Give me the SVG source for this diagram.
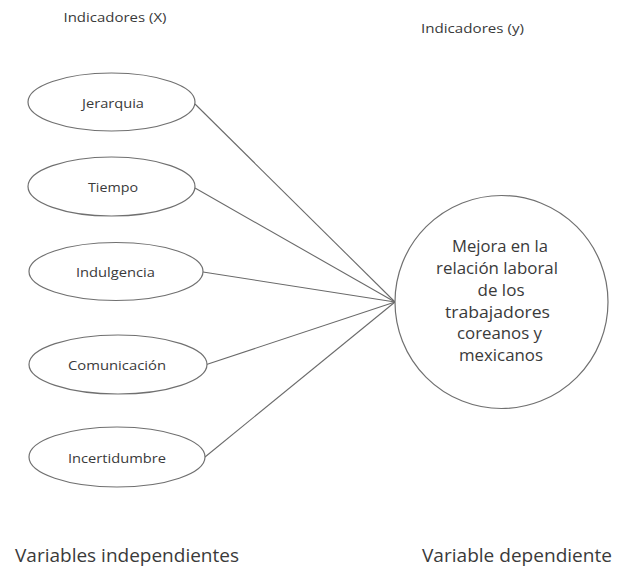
<svg xmlns="http://www.w3.org/2000/svg" width="618" height="569" viewBox="0 0 618 569">
<style>
.shape{fill:#ffffff;stroke:#707070;stroke-width:1.2}
.conn{stroke:#6a6a6a;stroke-width:1.1;fill:none}
text{font-family:"Open Sans","Liberation Sans",sans-serif;fill:#3a3a3a;text-anchor:middle}
.lbl{font-size:13px}
.hdr{font-size:12.5px}
.big{font-size:17.5px}
.ctr{font-size:16.5px}
</style>
<rect width="618" height="569" fill="#ffffff"/>
<text class="hdr" x="115" y="22" textLength="103" lengthAdjust="spacingAndGlyphs">Indicadores (X)</text>
<text class="hdr" x="472.5" y="33" textLength="103" lengthAdjust="spacingAndGlyphs">Indicadores (y)</text>
<g id="connectors">
<line class="conn" x1="195" y1="104" x2="395" y2="302"/>
<line class="conn" x1="195" y1="188" x2="395" y2="302"/>
<line class="conn" x1="203" y1="272" x2="395" y2="302"/>
<line class="conn" x1="205" y1="365" x2="395" y2="302"/>
<line class="conn" x1="205" y1="457" x2="395" y2="302"/>
</g>
<g id="jerarquia">
<ellipse class="shape" cx="111.5" cy="102" rx="83.5" ry="29"/>
<text class="lbl" x="113" y="108" textLength="62" lengthAdjust="spacingAndGlyphs">Jerarquia</text>
</g>
<g id="tiempo">
<ellipse class="shape" cx="111.5" cy="186.5" rx="83.5" ry="29.5"/>
<text class="lbl" x="113" y="192" textLength="50" lengthAdjust="spacingAndGlyphs">Tiempo</text>
</g>
<g id="indulgencia">
<ellipse class="shape" cx="116" cy="271.5" rx="87" ry="29"/>
<text class="lbl" x="115.5" y="277" textLength="79" lengthAdjust="spacingAndGlyphs">Indulgencia</text>
</g>
<g id="comunicacion">
<ellipse class="shape" cx="118" cy="364.5" rx="89" ry="29.5"/>
<text class="lbl" x="117" y="370" textLength="98" lengthAdjust="spacingAndGlyphs">Comunicación</text>
</g>
<g id="incertidumbre">
<ellipse class="shape" cx="117" cy="457" rx="88" ry="30"/>
<text class="lbl" x="117" y="462.5" textLength="98" lengthAdjust="spacingAndGlyphs">Incertidumbre</text>
</g>
<g id="mejora">
<circle class="shape" cx="501.5" cy="302" r="106.5"/>
<text class="ctr" x="500" y="252" textLength="96" lengthAdjust="spacingAndGlyphs">Mejora en la</text>
<text class="ctr" x="497" y="274" textLength="122" lengthAdjust="spacingAndGlyphs">relación laboral</text>
<text class="ctr" x="501" y="296" textLength="47" lengthAdjust="spacingAndGlyphs">de los</text>
<text class="ctr" x="497.5" y="318" textLength="105" lengthAdjust="spacingAndGlyphs">trabajadores</text>
<text class="ctr" x="499.5" y="339" textLength="85" lengthAdjust="spacingAndGlyphs">coreanos y</text>
<text class="ctr" x="501" y="361" textLength="84" lengthAdjust="spacingAndGlyphs">mexicanos</text>
</g>
<text class="big" x="127" y="562" textLength="224" lengthAdjust="spacingAndGlyphs">Variables independientes</text>
<text class="big" x="517" y="562" textLength="190" lengthAdjust="spacingAndGlyphs">Variable dependiente</text>
</svg>
